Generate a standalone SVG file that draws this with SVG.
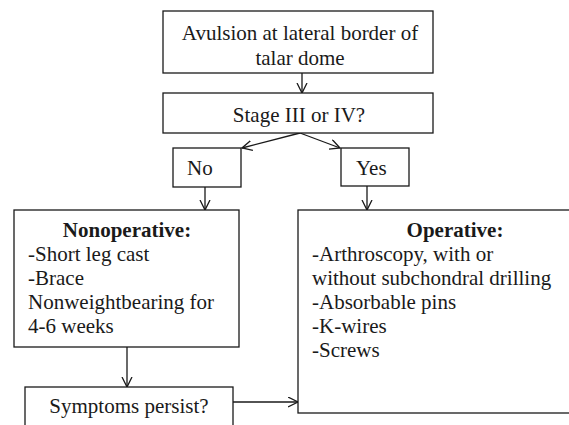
<svg xmlns="http://www.w3.org/2000/svg" width="569" height="425" viewBox="0 0 569 425">
<style>
.box{fill:#fff;stroke:#1a1a1a;stroke-width:1.3}
.t{font-family:"Liberation Serif","Times New Roman",serif;font-size:21px;fill:#1a1a1a}
.b{font-weight:bold}
.c{text-anchor:middle}
.ln{stroke:#1a1a1a;stroke-width:1.3;fill:none}
</style>
<defs>
<marker id="ah" markerUnits="userSpaceOnUse" markerWidth="14" markerHeight="14" refX="10" refY="5.5" orient="auto" viewBox="0 0 14 14">
<path d="M0,0.5 L10,5.5 L0,10.5" fill="none" stroke="#1a1a1a" stroke-width="1.3"/>
</marker>
</defs>
<rect width="569" height="425" fill="#fff"/>
<g id="connectors">
<line class="ln" x1="302" y1="73" x2="302" y2="93" marker-end="url(#ah)"/>
<line class="ln" x1="300" y1="133" x2="242" y2="148" marker-end="url(#ah)"/>
<line class="ln" x1="300" y1="133" x2="340" y2="148" marker-end="url(#ah)"/>
<line class="ln" x1="205" y1="187" x2="205" y2="210" marker-end="url(#ah)"/>
<line class="ln" x1="367" y1="186" x2="367" y2="210" marker-end="url(#ah)"/>
<line class="ln" x1="127" y1="347" x2="127" y2="387" marker-end="url(#ah)"/>
<line class="ln" x1="233" y1="402" x2="298" y2="402" marker-end="url(#ah)"/>
</g>
<g id="avulsion">
<rect class="box" x="163" y="11" width="270" height="62"/>
<text class="t c" x="300" y="40">Avulsion at lateral border of</text>
<text class="t c" x="300" y="65">talar dome</text>
</g>
<g id="stage">
<rect class="box" x="163" y="93" width="270" height="40"/>
<text class="t c" x="299" y="122">Stage III or IV?</text>
</g>
<g id="no">
<rect class="box" x="173" y="148" width="68" height="39"/>
<text class="t" x="187" y="175">No</text>
</g>
<g id="yes">
<rect class="box" x="341" y="148" width="68" height="38"/>
<text class="t" x="356" y="175">Yes</text>
</g>
<g id="nonoperative">
<rect class="box" x="14" y="210" width="225" height="137"/>
<text class="t b c" x="127" y="237">Nonoperative:</text>
<text class="t" x="28" y="261">-Short leg cast</text>
<text class="t" x="28" y="285">-Brace</text>
<text class="t" x="28" y="309">Nonweightbearing for</text>
<text class="t" x="28" y="333">4-6 weeks</text>
</g>
<g id="operative">
<rect class="box" x="298" y="210" width="300" height="203"/>
<text class="t b c" x="455" y="237">Operative:</text>
<text class="t" x="312" y="261">-Arthroscopy, with or</text>
<text class="t" x="312" y="285">without subchondral drilling</text>
<text class="t" x="312" y="309">-Absorbable pins</text>
<text class="t" x="312" y="333">-K-wires</text>
<text class="t" x="312" y="357">-Screws</text>
</g>
<g id="symptoms">
<rect class="box" x="25" y="387" width="208" height="60"/>
<text class="t c" x="129" y="413">Symptoms persist?</text>
</g>
</svg>
